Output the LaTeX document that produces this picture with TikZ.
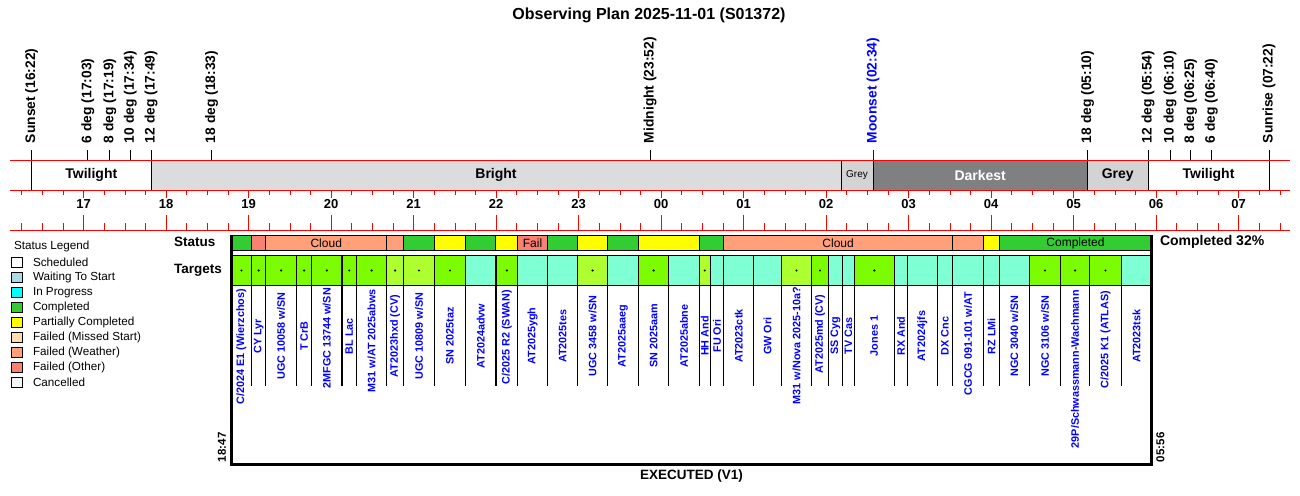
\documentclass[tikz,border=0pt]{standalone}
\usepackage{fontspec}
\setmainfont{Liberation Sans}
\definecolor{lgreen}{HTML}{7CFC00}
\definecolor{gyellow}{HTML}{ADFF2F}
\definecolor{aquam}{HTML}{7FFFD4}
\definecolor{limeg}{HTML}{32CD32}
\definecolor{salm}{HTML}{FA8072}
\definecolor{lsalm}{HTML}{FFA07A}
\definecolor{brightc}{HTML}{DCDCDC}
\definecolor{greyb}{HTML}{D3D3D3}
\definecolor{darkc}{HTML}{808080}
\definecolor{lbluec}{HTML}{ADD8E6}
\definecolor{cyanc}{HTML}{00FFFF}
\definecolor{missedc}{HTML}{FFDEAD}
\definecolor{cancelc}{HTML}{F5F5F5}
\definecolor{ublue}{HTML}{0000FF}
\definecolor{yel}{HTML}{FFFF00}
\definecolor{redl}{HTML}{FF0000}
\newcommand\fsb[1]{\fontsize{#1}{#1}\selectfont\bfseries}
\newcommand\fsr[1]{\fontsize{#1}{#1}\selectfont}
% target cell: xl, xr, fill, dot, anchor, y, text, name
\newcommand\tcell[8]{%
  \filldraw[fill=#3,draw=black,line width=1.3pt] (#1,255.5) rectangle (#2,285.5);
  \ifnum#4=1\relax \fill ({(#1+#2)/2},270.5) circle[radius=1.2pt];\fi
  \draw[line width=1.2pt] (#2,285.5) -- (#2,386);
  \node[tname, anchor=#5] (#8) at ({(#1+#2)/2},#6) {#7};
}
% status cell: xl, xr, fill, label, name
\newcommand\scell[5]{%
  \filldraw[fill=#3,draw=black,line width=1.2pt] (#1,235.5) rectangle (#2,250.5);
  \node[sname] (#5) at ({(#1+#2)/2},243) {#4};
}
\begin{document}
\begin{tikzpicture}[x=1pt,y=-1pt,
  every node/.style={inner sep=0pt,outer sep=0pt},
  mkl/.style={rotate=90,anchor=west,font=\fsb{13.8}},
  tname/.style={rotate=90,text=ublue,font=\fsb{10.8}},
  sname/.style={font=\fsr{12}},
  bandl/.style={font=\fsb{14}},
  hourl/.style={font=\fsb{13}},
  legl/.style={anchor=west,font=\fsr{11.7}},
  legbox/.style={draw=black,line width=0.8pt}]
\useasboundingbox[fill=white] (0,0) rectangle (1300,495);

% title
\node[font=\fsb{16}] (title) at (649,15) {Observing Plan 2025-11-01 (S01372)};

% bands
\fill[brightc] (151.08,160) rectangle (841,190);
\fill[greyb] (841,160) rectangle (872.95,190);
\fill[darkc] (872.95,160) rectangle (1087.45,190);
\fill[greyb] (1087.45,160) rectangle (1147.95,190);
\foreach \bx in {31.45,151.08,841,872.95,1087.45,1147.95,1268.95}
  \draw[black,line width=0.9pt] (\bx,160) -- (\bx,190);
\node[bandl] (bTw1) at (91.3,175) {Twilight};
\node[bandl] (bBr) at (496,175) {Bright};
\node[font=\fsr{10}] (bG1) at (857,175.5) {Grey};
\node[bandl,text=white] (bDk) at (980.2,175) {Darkest};
\node[bandl] (bG2) at (1117.7,175) {Grey};
\node[bandl] (bTw2) at (1208.5,175) {Twilight};

% top markers
\foreach \h/\m/\t/\c [count=\i] in {-8/22/{Sunset (16:22)}/black, -7/3/{6 deg (17:03)}/black,
  -7/19/{8 deg (17:19)}/black, -7/34/{10 deg (17:34)}/black, -7/49/{12 deg (17:49)}/black,
  -6/33/{18 deg (18:33)}/black, -1/52/{Midnight (23:52)}/black, 2/34/{Moonset (02:34)}/ublue,
  5/10/{18 deg (05:10)}/black, 5/54/{12 deg (05:54)}/black, 6/10/{10 deg (06:10)}/black,
  6/25/{8 deg (06:25)}/black, 6/40/{6 deg (06:40)}/black, 7/22/{Sunrise (07:22)}/black}
{
  \pgfmathsetmacro\xx{661.2+82.5*(\h+\m/60)}
  \draw[\c,line width=0.9pt] (\xx,150) -- (\xx,160);
  \node[mkl,text=\c] (mk\i) at (\xx,143) {\t};
}

% ticks
\foreach \k in {0,...,61}{
  \pgfmathsetmacro\xx{661.2+82.5*(-7.75+0.25*\k)}
  \draw[redl,line width=0.9pt] (\xx,190) -- (\xx,194.5);
  \draw[redl,line width=0.9pt] (\xx,230) -- (\xx,223.3);
}
\foreach \h/\lab [count=\i] in {-7/17,-6/18,-5/19,-4/20,-3/21,-2/22,-1/23,0/00,1/01,2/02,3/03,4/04,5/05,6/06,7/07}{
  \pgfmathsetmacro\xx{661.2+82.5*\h}
  \draw[redl,line width=0.9pt] (\xx,190) -- (\xx,197.5);
  \draw[redl,line width=0.9pt] (\xx,230) -- (\xx,215);
  \node[hourl] (hr\i) at (\xx,204) {\lab};
}
% red lines
\foreach \yy in {160,190,230}
  \draw[redl,line width=1pt] (10,\yy) -- (1290,\yy);

% row labels
\node[anchor=west,font=\fsb{13.5}] (lStatus) at (174,242) {Status};
\node[anchor=west,font=\fsb{13.5}] (lTargets) at (174,270) {Targets};
\node[anchor=west,font=\fsb{14}] (lCompl) at (1160,242) {Completed 32\%};

% status cells
\scell{231.4}{251.4}{limeg}{}{s1}
\scell{251.4}{265.7}{salm}{}{s2}
\scell{265.7}{386.8}{lsalm}{Cloud}{s3}
\scell{386.8}{403.6}{lsalm}{}{s4}
\scell{403.6}{434.6}{limeg}{}{s5}
\scell{434.6}{465.4}{yel}{}{s6}
\scell{465.4}{495.7}{limeg}{}{s7}
\scell{495.7}{517.5}{yel}{}{s8}
\scell{517.5}{547.5}{salm}{Fail}{s9}
\scell{547.5}{577.5}{limeg}{}{s10}
\scell{577.5}{607.5}{yel}{}{s11}
\scell{607.5}{638.6}{limeg}{}{s12}
\scell{638.6}{699.3}{yel}{}{s13}
\scell{699.3}{723.7}{limeg}{}{s14}
\scell{723.7}{952.6}{lsalm}{Cloud}{s15}
\scell{952.6}{983.6}{lsalm}{}{s16}
\scell{983.6}{999.3}{yel}{}{s17}
\scell{999.3}{1151.6}{limeg}{Completed}{s18}

% target cells
\tcell{231.4}{251.5}{lgreen}{1}{east}{289}{C/2024 E1 (Wierzchos)}{t1}
\tcell{251.5}{265.7}{lgreen}{1}{center}{336}{CY Lyr}{t2}
\tcell{265.7}{296.5}{lgreen}{1}{center}{336}{UGC 10058 w/SN}{t3}
\tcell{296.5}{311.8}{lgreen}{1}{center}{336}{T CrB}{t4}
\tcell{311.8}{342}{lgreen}{1}{east}{288}{2MFGC 13744 w/SN}{t5}
\tcell{342}{356.5}{lgreen}{1}{center}{336}{BL Lac}{t6}
\tcell{356.5}{386.8}{lgreen}{1}{east}{289}{M31 w/AT 2025abws}{t7}
\tcell{386.8}{403.5}{gyellow}{1}{center}{336}{AT2023hxd (CV)}{t8}
\tcell{403.5}{434.5}{gyellow}{1}{center}{336}{UGC 10809 w/SN}{t9}
\tcell{434.5}{465.5}{lgreen}{1}{center}{336}{SN 2025taz}{t10}
\tcell{465.5}{496}{aquam}{0}{center}{336}{AT2024advw}{t11}
\tcell{496}{517.6}{lgreen}{1}{east}{290}{C/2025 R2 (SWAN)}{t12}
\tcell{517.6}{547.6}{aquam}{0}{center}{336}{AT2025ygh}{t13}
\tcell{547.6}{577.6}{aquam}{0}{center}{336}{AT2025tes}{t14}
\tcell{577.6}{607.6}{gyellow}{1}{center}{336}{UGC 3458 w/SN}{t15}
\tcell{607.6}{638.6}{aquam}{0}{center}{336}{AT2025aaeg}{t16}
\tcell{638.6}{668.6}{lgreen}{1}{center}{336}{SN 2025aam}{t17}
\tcell{668.6}{699.3}{aquam}{0}{center}{336}{AT2025abne}{t18}
\tcell{699.3}{710.2}{gyellow}{1}{center}{336}{HH And}{t19}
\tcell{710.2}{723.7}{aquam}{0}{center}{336}{FU Ori}{t20}
\tcell{723.7}{753.6}{aquam}{0}{center}{336}{AT2023ctk}{t21}
\tcell{753.6}{781.5}{aquam}{0}{center}{336}{GW Ori}{t22}
\tcell{781.5}{811.4}{gyellow}{1}{east}{287}{M31 w/Nova 2025-10a?}{t23}
\tcell{811.4}{828.6}{lgreen}{1}{center}{334}{AT2025md (CV)}{t24}
\tcell{828.6}{842.4}{aquam}{0}{center}{336}{SS Cyg}{t25}
\tcell{842.4}{854.2}{aquam}{0}{center}{336}{TV Cas}{t26}
\tcell{854.2}{894.4}{lgreen}{1}{center}{336}{Jones 1}{t27}
\tcell{894.4}{907.4}{aquam}{0}{center}{336}{RX And}{t28}
\tcell{907.4}{937.3}{aquam}{0}{center}{336}{AT2024jfs}{t29}
\tcell{937.3}{952.6}{aquam}{0}{center}{336}{DX Cnc}{t30}
\tcell{952.6}{983.6}{aquam}{0}{east}{292}{CGCG 091-101 w/AT}{t31}
\tcell{983.6}{999.3}{aquam}{0}{center}{336}{RZ LMi}{t32}
\tcell{999.3}{1029.5}{aquam}{0}{center}{336}{NGC 3040 w/SN}{t33}
\tcell{1029.5}{1060.5}{lgreen}{1}{center}{336}{NGC 3106 w/SN}{t34}
\tcell{1060.5}{1089.6}{lgreen}{1}{east}{290}{29P/Schwassmann-Wachmann}{t35}
\tcell{1089.6}{1121.3}{lgreen}{1}{east}{291}{C/2025 K1 (ATLAS)}{t36}
\tcell{1121.3}{1151.6}{aquam}{0}{center}{336}{AT2023tsk}{t37}

% frame
\draw[line width=2.4pt] (231.4,235) -- (231.4,464.5) -- (1151.6,464.5) -- (1151.6,235);
\node[rotate=90,anchor=west,font=\fsb{11.5}] (tStart) at (222,462) {18:47};
\node[rotate=90,anchor=west,font=\fsb{11.5}] (tEnd) at (1160.5,462) {05:56};
\node[font=\fsb{13.5}] (exec) at (691.5,476) {EXECUTED (V1)};

% legend
\node[anchor=west,font=\fsr{11.7}] (legT) at (14,246) {Status Legend};
\foreach \c/\t [count=\i] in {white/Scheduled, lbluec/Waiting To Start, cyanc/In Progress,
  limeg/Completed, yel/Partially Completed, missedc/Failed (Missed Start),
  lsalm/Failed (Weather), salm/Failed (Other), cancelc/Cancelled}
{
  \pgfmathsetmacro\yy{262.3+15*(\i-1)}
  \filldraw[legbox,fill=\c] (11,\yy-5) rectangle (22,\yy+5);
  \node[legl] (leg\i) at (33,\yy) {\t};
}
\end{tikzpicture}
\end{document}
